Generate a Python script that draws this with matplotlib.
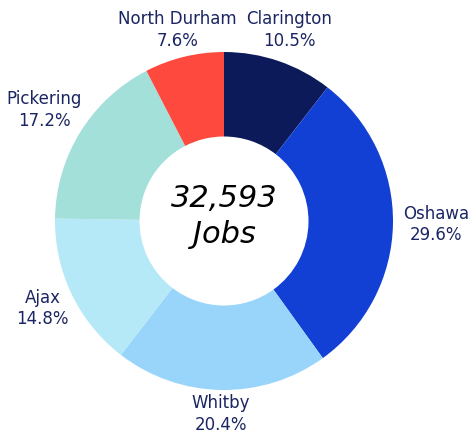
import numpy as np
import matplotlib.pyplot as plt

regions = ["Clarington", "Oshawa", "Whitby", "Ajax", "Pickering", "North Durham"]
shares = [10.5, 29.6, 20.4, 14.8, 17.2, 7.6]
colors = ["#0c1a5a", "#1340d4", "#99d5fa", "#b6e9f8", "#a3e0d9", "#fe4a3e"]
total_jobs = "32,593"

label_color = "#1b2563"
# how far out each label sits, in units of the outer radius
label_r = [1.194, 1.254, 1.142, 1.191, 1.249, 1.164]

fig = plt.figure(figsize=(4.72, 4.37), dpi=100)
ax = fig.add_axes([0, 0, 1, 1])

wedges, _ = ax.pie(shares, colors=colors, startangle=90, counterclock=False,
                   radius=1.0, wedgeprops=dict(width=0.5, linewidth=0))

# region name + share placed just outside each wedge
for w, name, pct, r in zip(wedges, regions, shares, label_r):
    mid = np.deg2rad((w.theta1 + w.theta2) / 2)
    ax.text(r * np.cos(mid), r * np.sin(mid), f"{name}\n{pct}%",
            ha="center", va="center", fontsize=12, color=label_color,
            linespacing=1.25)

ax.text(0, 0.083, total_jobs, ha="center", va="baseline", fontsize=22,
        style="italic", color="black")
ax.text(0, -0.130, "Jobs", ha="center", va="baseline", fontsize=22,
        style="italic", color="black")

R = 169.0
ax.set_xlim(-224 / R, (472 - 224) / R)
ax.set_ylim(-(437 - 221) / R, 221 / R)
ax.set_aspect("equal")
ax.axis("off")

fig.savefig("out.png", dpi=100)
